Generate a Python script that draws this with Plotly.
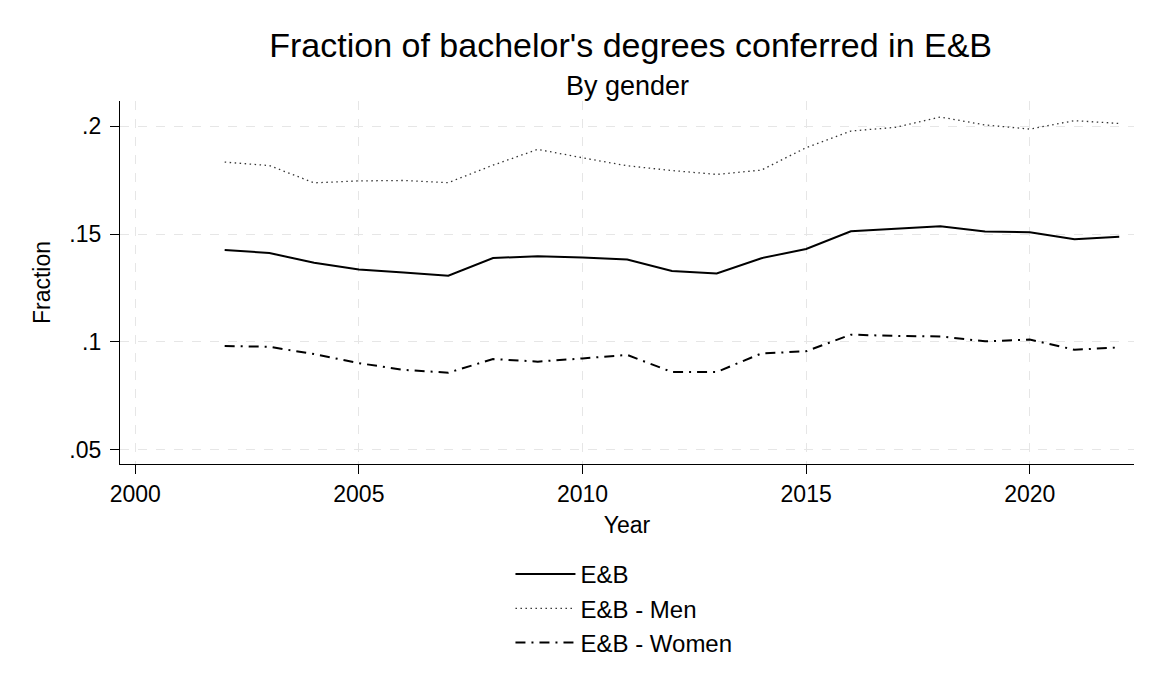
import plotly.graph_objects as go

# Datos
years = list(range(2002, 2023))
eb_total = [0.1426, 0.1412, 0.1367, 0.1336, 0.1322, 0.1307, 0.1389, 0.1397, 0.1391, 0.1382,
            0.1329, 0.1317, 0.1388, 0.1431, 0.1513, 0.1524, 0.1536, 0.1512, 0.1508, 0.1476, 0.1487]
eb_men = [0.1833, 0.1817, 0.1737, 0.1746, 0.1748, 0.1738, 0.1819, 0.1892, 0.1853, 0.1816,
          0.1794, 0.1776, 0.1796, 0.1900, 0.1977, 0.1994, 0.2042, 0.2005, 0.1986, 0.2025, 0.2012]
eb_women = [0.0981, 0.0978, 0.0944, 0.0902, 0.0871, 0.0858, 0.0921, 0.0909, 0.0924, 0.0940,
            0.0861, 0.0861, 0.0947, 0.0957, 0.1034, 0.1028, 0.1026, 0.1003, 0.1011, 0.0964, 0.0975]

x_ticks = [2000, 2005, 2010, 2015, 2020]
y_ticks = [0.05, 0.1, 0.15, 0.2]
y_ticktext = ['.05', '.1', '.15', '.2']

FONT = 'Liberation Sans, Arial, sans-serif'

# la página tiene 8px de margen en el body
W, H = 1152, 688
plot_h = 464 - 101

fig = go.Figure()

fig.add_trace(go.Scatter(
    x=years, y=eb_total, name='E&B', mode='lines',
    line=dict(color='black', width=2)
))
fig.add_trace(go.Scatter(
    x=years, y=eb_men, name='E&B - Men', mode='lines',
    line=dict(color='#333333', width=1.3, dash='1.5px,3.5px')
))
fig.add_trace(go.Scatter(
    x=years, y=eb_women, name='E&B - Women', mode='lines',
    line=dict(color='black', width=2, dash='10px,6px,2px,6px')
))

fig.update_layout(
    width=W, height=H,
    paper_bgcolor='white', plot_bgcolor='white',
    font=dict(family=FONT, color='black', size=23),
    margin=dict(l=112, r=W + 8 - 1134, t=93, b=H + 8 - 464),
    title=dict(
        text="Fraction of bachelor's degrees conferred in E&B",
        x=(120 + 1134) / 2 / 1160, xanchor='center',
        y=1 - (45 - 8) / H, yanchor='middle',
        font=dict(size=34, family=FONT, color='black')
    ),
    annotations=[dict(
        text='By gender', xref='paper', yref='paper',
        x=0.5, y=1 + (101 - 86) / plot_h, xanchor='center', yanchor='middle',
        showarrow=False, font=dict(size=27, family=FONT, color='black')
    )],
    legend=dict(
        x=0.497, xanchor='center', y=-(552 - 464) / plot_h, yanchor='top',
        font=dict(size=24, family=FONT), traceorder='normal',
        itemwidth=60, tracegroupgap=2
    ),
    showlegend=True
)

fig.update_xaxes(
    range=[1999.66, 2022.33],
    tickvals=x_ticks, ticks='outside', ticklen=9, tickcolor='black',
    showline=True, linecolor='black', linewidth=1.3,
    showgrid=True, gridcolor='#e6e6e6', griddash='dash', gridwidth=1.3,
    zeroline=False, tickfont=dict(size=23),
    title=dict(text='Year', font=dict(size=23), standoff=11)
)
fig.update_yaxes(
    range=[0.0435, 0.2116],
    tickvals=y_ticks, ticktext=y_ticktext, ticks='outside', ticklen=9, tickcolor='black',
    showline=True, linecolor='black', linewidth=1.3,
    showgrid=True, gridcolor='#e6e6e6', griddash='dash', gridwidth=1.3,
    zeroline=False, tickfont=dict(size=23), ticklabelstandoff=4,
    title=dict(text='Fraction', font=dict(size=23), standoff=12)
)

fig.write_html("out.html")
